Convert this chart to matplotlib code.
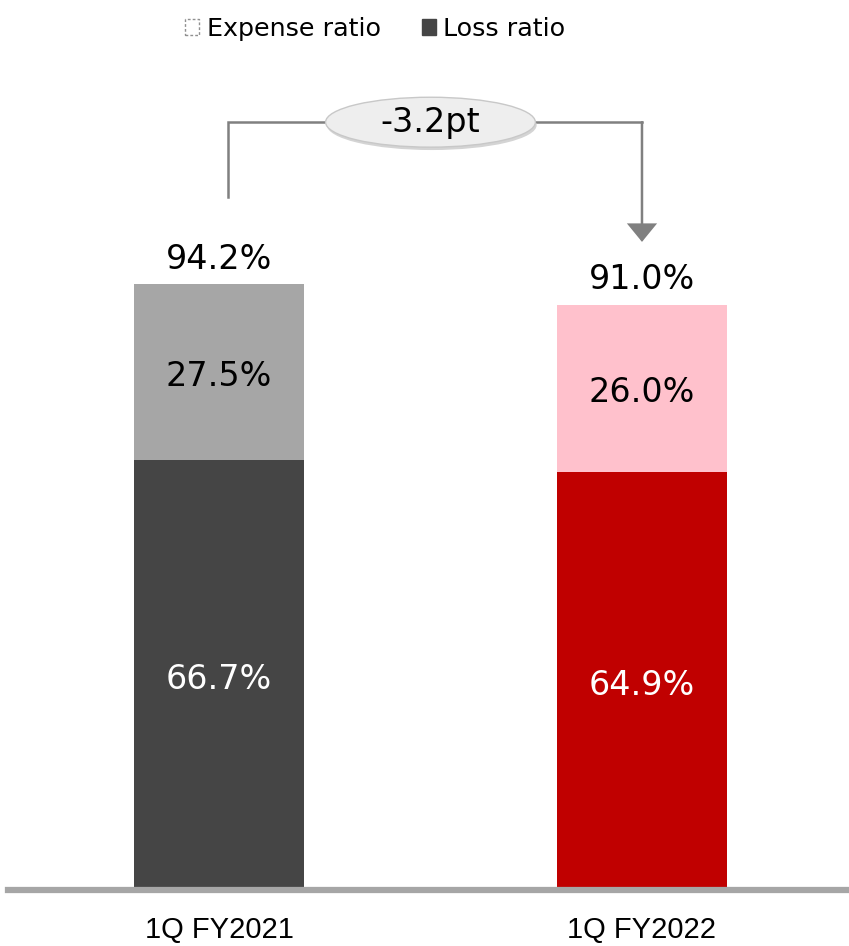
import matplotlib.pyplot as plt
from matplotlib.patches import Patch, Ellipse

# data
categories = ['1Q FY2021', '1Q FY2022']
loss_ratio = [66.7, 64.9]
expense_ratio = [27.5, 26.0]
combined = [94.2, 91.0]
change_label = '-3.2pt'

loss_colors = ['#454545', '#c00000']
expense_colors = ['#a6a6a6', '#ffc1cc']

plt.rcParams['font.family'] = ['DejaVu Sans']

fig = plt.figure(figsize=(8.49, 9.46), dpi=100)
ax = fig.add_axes([8 / 849, 59 / 946, 841 / 849, 887 / 946])

x = [0, 1]
bw = 0.402
ax.bar(x, loss_ratio, width=bw, color=loss_colors, zorder=2)
ax.bar(x, expense_ratio, width=bw, bottom=loss_ratio, color=expense_colors, zorder=2)

fs = 24
for i in x:
    ax.text(i, loss_ratio[i] / 2 - 0.9, f'{loss_ratio[i]:.1f}%', ha='center', va='center',
            fontsize=fs, color='white')
    ax.text(i, loss_ratio[i] + expense_ratio[i] / 2 - 0.7, f'{expense_ratio[i]:.1f}%',
            ha='center', va='center', fontsize=fs, color='black')
    ax.text(i, combined[i] + 3.9, f'{combined[i]:.1f}%', ha='center', va='center',
            fontsize=fs, color='black')

# change bracket
top = max(combined) + 25.3
y_start = combined[0] + 13.6
y_end = combined[1] + 9.8
gray = '#808080'
ax.plot([x[0] + 0.021, x[0] + 0.021, x[1]], [y_start, top, top], color=gray, lw=1.8,
        solid_joinstyle='miter', zorder=3)
ax.annotate('', xy=(x[1], y_end), xytext=(x[1], top),
            arrowprops=dict(arrowstyle='-|>,head_length=1.1,head_width=0.9',
                            color=gray, lw=1.8, shrinkA=0, shrinkB=0,
                            joinstyle='miter'), zorder=3)
mid = (x[0] + x[1]) / 2
ell_shadow = Ellipse((mid + 0.003, top - 0.45), 0.496, 7.8, facecolor='#d4d4d4',
                     edgecolor='none', zorder=4)
ax.add_patch(ell_shadow)
ell = Ellipse((mid, top), 0.496, 7.8, facecolor='#eeeeee', edgecolor='#c8c8c8',
              lw=1.0, zorder=5)
ax.add_patch(ell)
ax.text(mid, top, change_label, ha='center', va='center', fontsize=fs, zorder=6)

ax.set_xlim(-0.4988, 1.4894)
ax.set_ylim(0, 887 / 6.4)
for s in ['top', 'left', 'right']:
    ax.spines[s].set_visible(False)
ax.spines['bottom'].set_color('#a6a6a6')
ax.spines['bottom'].set_linewidth(4.5)
ax.spines['bottom'].set_position(('outward', 2.2))
ax.set_xticks(x)
ax.set_xticklabels(categories, fontsize=21, family='Liberation Sans')
ax.tick_params(axis='x', length=0, pad=19)
ax.set_yticks([])

handles = [Patch(facecolor='white', edgecolor='#909090', linestyle=(0, (2, 1.5)), lw=1.0),
           Patch(facecolor='#454545', edgecolor='#454545')]
fig.legend(handles, ['Expense ratio', 'Loss ratio'], loc='center',
           bbox_to_anchor=(0.442, 1 - 29 / 946), ncol=2, frameon=False, fontsize=18.3,
           handlelength=0.55, handleheight=0.55, handletextpad=0.3, columnspacing=1.6)

fig.savefig('out.png', dpi=100)
